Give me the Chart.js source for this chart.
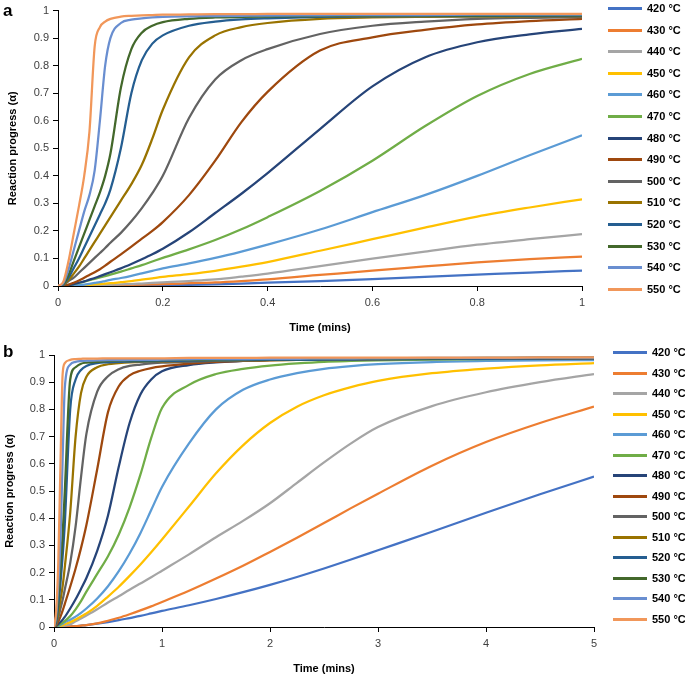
<!DOCTYPE html>
<html>
<head>
<meta charset="utf-8">
<script src="https://cdn.jsdelivr.net/npm/chart.js@4.4.1/dist/chart.umd.min.js"></script>
<style>
  body { margin: 0; background: #fff; font-family: "Liberation Sans", Arial, sans-serif; }
  #wrap { position: relative; width: 685px; height: 678px; }
  .panel { position: absolute; left: 0; width: 685px; height: 339px; }
  .tag { position: absolute; left: 3px; font-size: 17px; font-weight: bold; color: #000; }
  .legend { position: absolute; font-size: 11px; font-weight: bold; color: #000; }
  .item { position: absolute; left: 0; height: 12px; white-space: nowrap; }
  .item .ln { position: absolute; left: 0; top: 5px; width: 34px; height: 3px; }
  .item .tx { position: absolute; left: 39px; top: 0; }
</style>
</head>
<body>
<div id="wrap">
  <div class="panel" style="top:0"><canvas id="chartA" width="685" height="339"></canvas></div>
  <div class="panel" style="top:339px"><canvas id="chartB" width="685" height="339"></canvas></div>
  <div class="tag" style="top:1px">a</div>
  <div class="tag" style="top:342px">b</div>
  <div class="legend" id="legA" style="left:608px; top:2px"></div>
  <div class="legend" id="legB" style="left:613px; top:346px"></div>
</div>
<script>
const temps = ['420 °C', '430 °C', '440 °C', '450 °C', '460 °C', '470 °C', '480 °C',
               '490 °C', '500 °C', '510 °C', '520 °C', '530 °C', '540 °C', '550 °C'];
const colors = ['#4472C4', '#ED7D31', '#A5A5A5', '#FFC000', '#5B9BD5', '#70AD47', '#264478',
                '#9E480E', '#636363', '#997300', '#255E91', '#43682B', '#698ED0', '#F1975A'];

// panel a, time in minutes
const timeA = [0, 0.01, 0.02, 0.03, 0.04, 0.05, 0.06, 0.07, 0.08, 0.09, 0.1, 0.12, 0.14,
               0.16, 0.18, 0.2, 0.25, 0.3, 0.35, 0.4, 0.5, 0.6, 0.7, 0.8, 0.9, 1];
const a420 = [0, 0, 0, 0, 0, 0, 0, 0, 0, 0, 0.001, 0.001, 0.001, 0.002, 0.002, 0.003, 0.004, 0.006, 0.009, 0.012, 0.018, 0.025, 0.033, 0.041, 0.049, 0.056];
const a430 = [0, 0, 0, 0, 0, 0, 0, 0.001, 0.001, 0.001, 0.002, 0.003, 0.004, 0.005, 0.006, 0.007, 0.01, 0.013, 0.018, 0.024, 0.04, 0.056, 0.071, 0.086, 0.098, 0.107];
const a440 = [0, 0, 0, 0, 0.001, 0.001, 0.002, 0.002, 0.003, 0.003, 0.004, 0.006, 0.007, 0.009, 0.011, 0.013, 0.018, 0.024, 0.034, 0.045, 0.072, 0.099, 0.125, 0.15, 0.17, 0.188];
const a450 = [0, 0, 0, 0.001, 0.002, 0.003, 0.004, 0.006, 0.007, 0.009, 0.01, 0.014, 0.018, 0.023, 0.028, 0.033, 0.043, 0.055, 0.07, 0.087, 0.128, 0.17, 0.212, 0.252, 0.285, 0.315];
const a460 = [0, 0, 0.001, 0.002, 0.003, 0.005, 0.008, 0.011, 0.014, 0.018, 0.022, 0.029, 0.037, 0.046, 0.055, 0.064, 0.082, 0.102, 0.125, 0.15, 0.205, 0.268, 0.33, 0.4, 0.475, 0.547];
const a470 = [0, 0, 0.003, 0.007, 0.011, 0.016, 0.021, 0.026, 0.031, 0.036, 0.041, 0.052, 0.064, 0.076, 0.089, 0.102, 0.133, 0.167, 0.206, 0.25, 0.345, 0.455, 0.58, 0.69, 0.77, 0.825];
const a480 = [0, 0, 0.003, 0.007, 0.012, 0.017, 0.023, 0.029, 0.036, 0.043, 0.05, 0.064, 0.08, 0.097, 0.115, 0.135, 0.195, 0.265, 0.335, 0.41, 0.57, 0.725, 0.83, 0.885, 0.914, 0.934];
const a490 = [0, 0.001, 0.005, 0.012, 0.02, 0.03, 0.04, 0.05, 0.061, 0.074, 0.088, 0.115, 0.143, 0.172, 0.2, 0.232, 0.33, 0.455, 0.595, 0.705, 0.855, 0.903, 0.93, 0.95, 0.962, 0.97];
const a500 = [0, 0.003, 0.018, 0.03, 0.048, 0.066, 0.084, 0.102, 0.12, 0.138, 0.157, 0.193, 0.235, 0.283, 0.337, 0.4, 0.61, 0.75, 0.82, 0.86, 0.915, 0.945, 0.96, 0.97, 0.974, 0.976];
const a510 = [0, 0.005, 0.022, 0.045, 0.07, 0.1, 0.13, 0.16, 0.19, 0.22, 0.25, 0.31, 0.37, 0.44, 0.535, 0.64, 0.83, 0.91, 0.94, 0.955, 0.97, 0.975, 0.977, 0.978, 0.979, 0.98];
const a520 = [0, 0.006, 0.03, 0.065, 0.1, 0.14, 0.18, 0.22, 0.26, 0.3, 0.35, 0.5, 0.7, 0.82, 0.88, 0.91, 0.945, 0.96, 0.968, 0.972, 0.977, 0.979, 0.98, 0.98, 0.981, 0.982];
const a530 = [0, 0.008, 0.04, 0.09, 0.14, 0.19, 0.24, 0.29, 0.34, 0.4, 0.48, 0.72, 0.86, 0.92, 0.945, 0.958, 0.97, 0.975, 0.977, 0.978, 0.98, 0.981, 0.982, 0.982, 0.983, 0.983];
const a540 = [0, 0.01, 0.06, 0.13, 0.2, 0.27, 0.33, 0.42, 0.6, 0.8, 0.9, 0.955, 0.967, 0.972, 0.975, 0.977, 0.979, 0.98, 0.981, 0.982, 0.983, 0.984, 0.984, 0.985, 0.985, 0.985];
const a550 = [0, 0.015, 0.09, 0.19, 0.29, 0.4, 0.56, 0.87, 0.94, 0.96, 0.97, 0.978, 0.981, 0.983, 0.984, 0.985, 0.986, 0.987, 0.987, 0.988, 0.988, 0.988, 0.988, 0.988, 0.988, 0.988];

// panel b, time in minutes
const timeB = [0, 0.02, 0.04, 0.06, 0.08, 0.1, 0.15, 0.2, 0.25, 0.3, 0.4, 0.5, 0.6, 0.7,
               0.8, 0.9, 1, 1.25, 1.5, 1.75, 2, 2.25, 2.5, 2.75, 3, 3.5, 4, 4.5, 5];
const b420 = [0, 0, 0, 0, 0, 0.001, 0.002, 0.003, 0.005, 0.007, 0.012, 0.018, 0.025, 0.033, 0.041, 0.05, 0.059, 0.08, 0.103, 0.128, 0.155, 0.184, 0.215, 0.248, 0.282, 0.35, 0.42, 0.488, 0.553];
const b430 = [0, 0, 0, 0, 0.001, 0.001, 0.002, 0.003, 0.005, 0.007, 0.013, 0.023, 0.034, 0.047, 0.061, 0.076, 0.092, 0.133, 0.178, 0.225, 0.276, 0.328, 0.382, 0.437, 0.49, 0.593, 0.68, 0.75, 0.81];
const b440 = [0, 0, 0.001, 0.002, 0.003, 0.005, 0.01, 0.021, 0.031, 0.042, 0.065, 0.09, 0.113, 0.137, 0.16, 0.183, 0.207, 0.267, 0.33, 0.39, 0.455, 0.53, 0.605, 0.675, 0.735, 0.812, 0.863, 0.9, 0.93];
const b450 = [0, 0, 0.002, 0.004, 0.007, 0.01, 0.018, 0.028, 0.039, 0.05, 0.078, 0.112, 0.148, 0.188, 0.23, 0.275, 0.322, 0.443, 0.565, 0.668, 0.75, 0.81, 0.852, 0.882, 0.905, 0.933, 0.95, 0.962, 0.97];
const b460 = [0, 0.001, 0.004, 0.008, 0.012, 0.017, 0.027, 0.038, 0.052, 0.068, 0.105, 0.15, 0.205, 0.27, 0.345, 0.43, 0.515, 0.675, 0.8, 0.872, 0.91, 0.933, 0.949, 0.959, 0.966, 0.974, 0.978, 0.98, 0.981];
const b470 = [0, 0.002, 0.006, 0.011, 0.016, 0.022, 0.04, 0.065, 0.095, 0.13, 0.195, 0.26, 0.34, 0.44, 0.56, 0.695, 0.805, 0.89, 0.93, 0.949, 0.961, 0.969, 0.975, 0.978, 0.98, 0.983, 0.985, 0.986, 0.988];
const b480 = [0, 0.004, 0.01, 0.018, 0.027, 0.037, 0.068, 0.102, 0.14, 0.18, 0.28, 0.41, 0.59, 0.75, 0.855, 0.91, 0.94, 0.963, 0.973, 0.978, 0.982, 0.984, 0.985, 0.986, 0.986, 0.987, 0.988, 0.988, 0.989];
const b490 = [0, 0.006, 0.02, 0.038, 0.06, 0.085, 0.148, 0.215, 0.29, 0.375, 0.58, 0.79, 0.885, 0.925, 0.942, 0.952, 0.958, 0.968, 0.975, 0.978, 0.98, 0.982, 0.983, 0.984, 0.985, 0.986, 0.987, 0.987, 0.988];
const b500 = [0, 0.01, 0.035, 0.068, 0.1, 0.138, 0.235, 0.37, 0.55, 0.71, 0.865, 0.922, 0.948, 0.96, 0.965, 0.969, 0.972, 0.975, 0.978, 0.98, 0.982, 0.983, 0.984, 0.985, 0.985, 0.986, 0.987, 0.988, 0.988];
const b510 = [0, 0.015, 0.05, 0.1, 0.15, 0.22, 0.42, 0.7, 0.86, 0.92, 0.955, 0.966, 0.97, 0.973, 0.975, 0.976, 0.977, 0.978, 0.979, 0.98, 0.981, 0.982, 0.983, 0.984, 0.985, 0.986, 0.987, 0.988, 0.989];
const b520 = [0, 0.02, 0.08, 0.16, 0.26, 0.38, 0.8, 0.91, 0.945, 0.96, 0.97, 0.973, 0.975, 0.976, 0.977, 0.977, 0.978, 0.979, 0.98, 0.981, 0.982, 0.982, 0.983, 0.983, 0.984, 0.985, 0.986, 0.987, 0.988];
const b530 = [0, 0.03, 0.11, 0.22, 0.34, 0.5, 0.91, 0.955, 0.968, 0.972, 0.975, 0.978, 0.979, 0.98, 0.98, 0.98, 0.981, 0.982, 0.983, 0.984, 0.985, 0.985, 0.986, 0.986, 0.987, 0.988, 0.989, 0.99, 0.99];
const b540 = [0, 0.04, 0.16, 0.32, 0.62, 0.88, 0.965, 0.975, 0.978, 0.979, 0.98, 0.981, 0.981, 0.982, 0.982, 0.982, 0.983, 0.984, 0.985, 0.985, 0.986, 0.986, 0.987, 0.987, 0.988, 0.989, 0.989, 0.99, 0.99];
const b550 = [0, 0.06, 0.24, 0.6, 0.93, 0.97, 0.982, 0.985, 0.986, 0.987, 0.987, 0.988, 0.988, 0.988, 0.988, 0.988, 0.988, 0.989, 0.989, 0.989, 0.99, 0.99, 0.99, 0.99, 0.99, 0.99, 0.99, 0.991, 0.991];

const seriesA = [a420, a430, a440, a450, a460, a470, a480, a490, a500, a510, a520, a530, a540, a550];
const seriesB = [b420, b430, b440, b450, b460, b470, b480, b490, b500, b510, b520, b530, b540, b550];

const tickFont = { family: '"Liberation Sans", Arial, sans-serif', size: 11 };
const titleFont = { family: '"Liberation Sans", Arial, sans-serif', size: 11, weight: 'bold' };
const plainNum = v => String(+v.toFixed(2)); // 1 instead of 1.0

function makeChart(id, time, series, xMax, xStep, box) {
  let ctx = document.getElementById(id).getContext('2d');
  return new Chart(ctx, {
    type: 'line',
    data: {
      datasets: series.map((vals, k) => ({
        label: temps[k],
        data: time.map((t, i) => ({ x: t, y: vals[i] })),
        borderColor: colors[k],
        backgroundColor: colors[k],
        borderWidth: 2.25,
        pointRadius: 0,
        cubicInterpolationMode: 'monotone',
        fill: false,
        order: series.length - k // later series on top, like the original
      }))
    },
    options: {
      responsive: false,
      animation: false,
      layout: { padding: { left: 0, right: box.right, top: box.top, bottom: 0 } },
      plugins: { legend: { display: false }, tooltip: { enabled: false } },
      scales: {
        x: {
          type: 'linear', min: 0, max: xMax,
          ticks: { stepSize: xStep, color: '#404040', font: tickFont, padding: 5, maxRotation: 0, callback: plainNum },
          grid: { drawOnChartArea: false, color: '#000', tickLength: 5 },
          border: { color: '#000', width: 1 },
          title: { display: true, text: 'Time (mins)', color: '#000', font: titleFont, padding: { top: 4, bottom: box.xtPad } },
          afterFit: s => { s.height = box.xh; }
        },
        y: {
          min: 0, max: 1,
          ticks: { stepSize: 0.1, color: '#404040', font: tickFont, padding: 4, callback: plainNum },
          grid: { drawOnChartArea: false, color: '#000', tickLength: 5 },
          border: { color: '#000', width: 1 },
          title: { display: true, text: 'Reaction progress (α)', color: '#000', font: titleFont, padding: { top: box.ytPad, bottom: 4 } },
          afterFit: s => { s.width = box.left; }
        }
      }
    }
  });
}

function makeLegend(id, gap) {
  let el = document.getElementById(id);
  temps.forEach((name, k) => {
    let item = document.createElement('div');
    item.className = 'item';
    item.style.top = Math.round(k * gap) + 'px';
    item.innerHTML = '<span class="ln" style="background:' + colors[k] + '"></span><span class="tx">' + name + '</span>';
    el.appendChild(item);
  });
}

makeChart('chartA', timeA, seriesA, 1, 0.2, { left: 58, right: 103, top: 10, xh: 53, xtPad: 4, ytPad: 6 });
makeChart('chartB', timeB, seriesB, 5, 1, { left: 54, right: 91, top: 16, xh: 51, xtPad: 2, ytPad: 3 });
makeLegend('legA', 21.6);
makeLegend('legB', 20.5);
</script>
</body>
</html>
